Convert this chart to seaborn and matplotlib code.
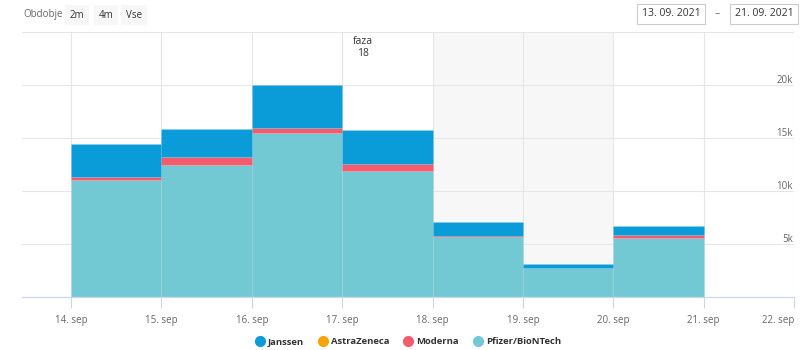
import matplotlib
matplotlib.use("Agg")
import matplotlib.pyplot as plt
import matplotlib.transforms as mtransforms
from matplotlib.lines import Line2D
import pandas as pd
import seaborn as sns

# Daily vaccinations by vaccine, 14-20 Sep 2021
days = [14, 15, 16, 17, 18, 19, 20]
pfizer = [11080, 12450, 15500, 11910, 5690, 2740, 5600]
moderna = [250, 790, 440, 640, 20, 0, 250]
astrazeneca = [0, 0, 0, 0, 0, 0, 0]
janssen = [3100, 2610, 4060, 3200, 1370, 380, 820]

tick_days = [14, 15, 16, 17, 18, 19, 20, 21, 22]
tick_labels = [f"{d}. sep" for d in tick_days]
y_ticks = [5000, 10000, 15000, 20000]
y_tick_labels = ["5k", "10k", "15k", "20k"]

series_names = ["Janssen", "AstraZeneca", "Moderna", "Pfizer/BioNTech"]
series_values = [janssen, astrazeneca, moderna, pfizer]
colors = ["#0a9bd9", "#f7a30c", "#f45b6c", "#73c9d3"]

rows = []
for name, vals in zip(series_names, series_values):
    for d, v in zip(days, vals):
        rows.append({"dan": d, "cepivo": name, "odmerki": v})
df = pd.DataFrame(rows)

sns.set_style("white")
plt.rcParams["font.family"] = ["Open Sans", "DejaVu Sans"]

fig = plt.figure(figsize=(8.06, 3.5), dpi=100)
ax = fig.add_axes([22 / 806, 53 / 350, (794 - 22) / 806, (297 - 32) / 350])

# weekend band
ax.axvspan(18, 20, color="#f7f7f7", zorder=0, lw=0)

sns.histplot(
    data=df, x="dan", weights="odmerki", hue="cepivo",
    hue_order=series_names, palette=dict(zip(series_names, colors)),
    multiple="stack", bins=list(range(14, 22)), element="bars",
    alpha=1, edgecolor=(1, 1, 1, 0.06), linewidth=0.6,
    legend=False, ax=ax, zorder=2,
)

ax.set_xlim(13.457, 22.0)
ax.set_ylim(0, 25000)
ax.set_xlabel("")
ax.set_ylabel("")

ax.set_xticks(tick_days)
ax.set_xticklabels(tick_labels, fontsize=7, color="#666666")
ax.get_xticklabels()[-1].set_horizontalalignment("right")
ax.set_yticks([0, 5000, 10000, 15000, 20000, 25000])
ax.tick_params(axis="y", left=False, labelleft=False)
ax.tick_params(axis="x", length=8, width=0.8, color="#ccd6eb", pad=5, direction="out", bottom=True)

# gridlines
for y in [5000, 10000, 15000, 20000, 25000]:
    ax.axhline(y, color="#e6e6e6", lw=0.8, zorder=1)
for d in tick_days:
    ax.axvline(d, color="#e6e6e6", lw=0.8, zorder=1)

for s in ["top", "left", "right"]:
    ax.spines[s].set_visible(False)
ax.spines["bottom"].set_color("#ccd6eb")
ax.spines["bottom"].set_linewidth(0.9)
ax.spines["bottom"].set_zorder(3)

# y labels inside on the right
trans = mtransforms.blended_transform_factory(ax.transAxes, ax.transData)
for yv, lab in zip(y_ticks, y_tick_labels):
    ax.annotate(lab, xy=(1.0, yv), xycoords=trans, xytext=(-1, 2),
                textcoords="offset pixels", ha="right", va="baseline",
                fontsize=7, color="#666666")

# phase marker label
ax.annotate("faza\n18", xy=(17, 25000), xytext=(21, -4), textcoords="offset pixels",
            ha="center", va="top", fontsize=7.5, color="#333333", linespacing=1.1)

# range selector
fig.text(23 / 806, 1 - 15 / 350, "Obdobje", fontsize=7, color="#666666", va="center")
for x, lab in [(77, "2m"), (106, "4m"), (134, "Vse")]:
    fig.text(x / 806, 1 - 15 / 350, lab, fontsize=7, color="#333333", va="center", ha="center",
             bbox=dict(boxstyle="square,pad=0.5", fc="#f7f7f7", ec="none"))

# date inputs
for x, lab in [(671, "13. 09. 2021"), (764, "21. 09. 2021")]:
    fig.text(x / 806, 1 - 14 / 350, lab, fontsize=7.5, color="#333333", va="center", ha="center",
             bbox=dict(boxstyle="square,pad=0.45", fc="white", ec="#cccccc", lw=0.8))
fig.text(717 / 806, 1 - 14 / 350, "–", fontsize=7.5, color="#666666", va="center", ha="center")

# legend
handles = [Line2D([0], [0], marker="o", linestyle="none", markersize=7,
                  markerfacecolor=c, markeredgecolor=c) for c in colors]
leg = fig.legend(handles, series_names, loc="center", bbox_to_anchor=(408 / 806, 1 - 342 / 350),
                 ncol=4, frameon=False, fontsize=6.8, handletextpad=0.35, columnspacing=1.5,
                 handlelength=1.0)
for t in leg.get_texts():
    t.set_fontweight("bold")
    t.set_color("#333333")

fig.savefig("out.png", dpi=100)
